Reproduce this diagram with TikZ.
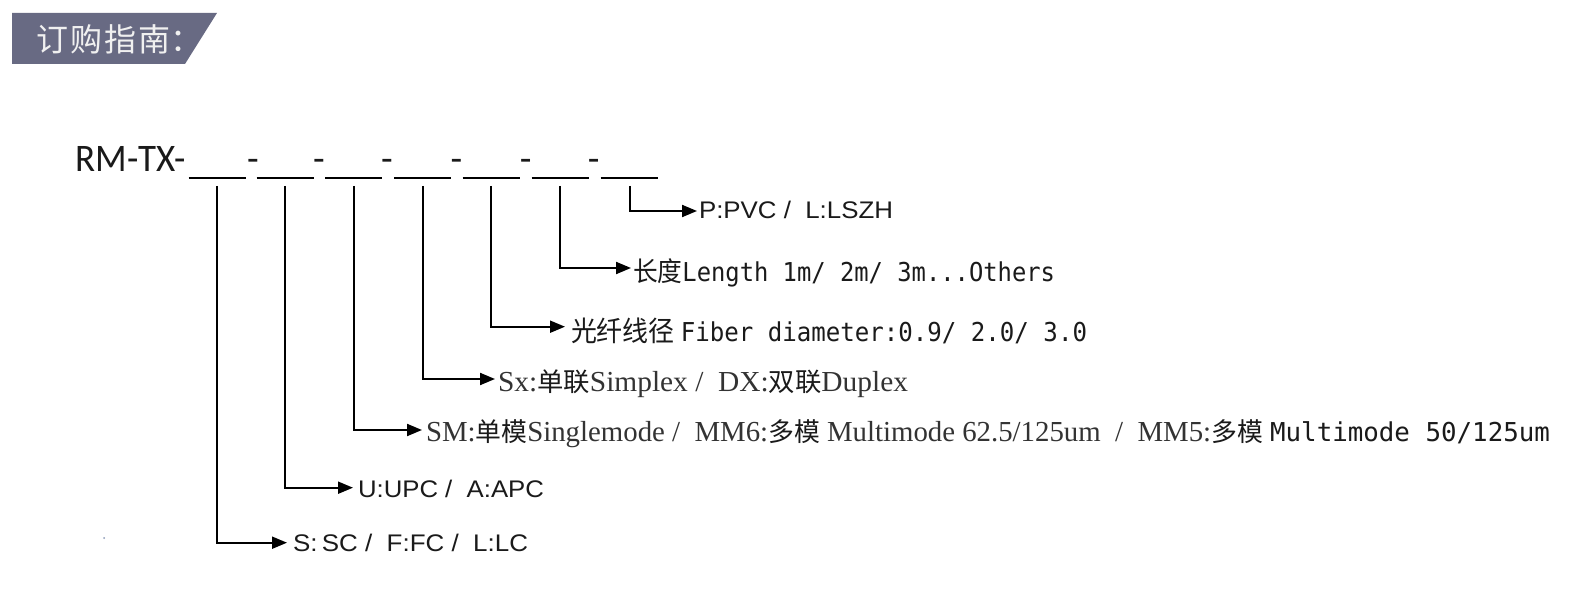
\documentclass[tikz,border=0pt]{standalone}
\usepackage{fontspec}
\usepackage{graphicx}
\usetikzlibrary{arrows.meta,calc}
\setmainfont{Liberation Serif}
\newfontfamily\cjk{Noto Sans CJK SC}
\newfontfamily\arialf{Liberation Sans}
\newfontfamily\monof{DejaVu Sans Mono}
\newfontfamily\calf{Carlito}
\definecolor{banner}{HTML}{686A83}
\definecolor{ink}{HTML}{1A1A1A}
\definecolor{serifink}{HTML}{333333}
\definecolor{speck}{HTML}{8A9AB8}
\newcommand\fitw[2]{\resizebox{#1}{\height}{#2}}
\begin{document}
\begin{tikzpicture}[x=0.5pt,y=-0.5pt,
  lbl/.style={anchor=base west,inner sep=0pt,outer sep=0pt,text=ink},
  dashlbl/.style={anchor=base,inner sep=0pt,outer sep=0pt,text=ink,font=\calf\fontsize{19pt}{19pt}\selectfont},
  conn/.style={line width=1pt,-{Triangle[length=7.5pt,width=6pt]}},
  uline/.style={line width=1pt}]
\useasboundingbox[fill=white] (0,0) rectangle (1577,592);
% banner
\fill[banner] (12,13) -- (217,13) -- (185,64) -- (12,64) -- cycle;
\node[anchor=west,inner sep=0pt,text=white!94!black] (title) at (36,39)
  {\fontsize{16pt}{16pt}\selectfont\cjk 订\hspace{1pt}购\hspace{1pt}指\hspace{1pt}南：};
% code line
\node[lbl] (code) at (75.5,172) {\fitw{55pt}{\fontsize{19.5pt}{19.5pt}\selectfont\calf RM-TX-}};
\foreach \i/\x in {1/253,2/319,3/387,4/456.5,5/525.8,6/593.8}
  \node[dashlbl] (d\i) at (\x,172) {-};
\foreach \i/\x in {1/217,2/285,3/353.5,4/422.5,5/491,6/560,7/629}
  \coordinate (u\i) at (\x,178);
\foreach \i in {1,...,7}
  \draw[uline] ($(u\i)+(-28.5,0)$) -- ($(u\i)+(28.5,0)$);
% labels
\node[lbl] (t7) at (699,219) {\fitw{97pt}{\fontsize{12pt}{12pt}\selectfont\arialf P:PVC /\ \ L:LSZH}};
\node[lbl] (t6) at (633,282) {\fitw{211pt}{\fontsize{13pt}{13pt}\selectfont{\cjk\fontsize{13.5pt}{13.5pt}\selectfont 长度}{\monof Length 1m/ 2m/ 3m...Others}}};
\node[lbl] (t5) at (571,341.7) {\fitw{258pt}{\fontsize{13pt}{13pt}\selectfont{\cjk\fontsize{14pt}{14pt}\selectfont 光纤线径} {\monof Fiber diameter:0.9/ 2.0/ 3.0}}};
\node[lbl,text=serifink] (t4) at (498,392) {\fitw{205pt}{\fontsize{14.5pt}{14.5pt}\selectfont Sx:{\cjk\fontsize{13pt}{13pt}\selectfont\color{ink} 单联}Simplex /\ \ DX:{\cjk\fontsize{13pt}{13pt}\selectfont\color{ink} 双联}Duplex}};
\node[lbl,text=serifink] (t3) at (426,442) {\fitw{562pt}{\fontsize{14.5pt}{14.5pt}\selectfont SM:{\cjk\fontsize{13pt}{13pt}\selectfont\color{ink} 单模}Singlemode /\ \ MM6:{\cjk\fontsize{13pt}{13pt}\selectfont\color{ink} 多模} Multimode 62.5/125um\ \ /\ \ MM5:{\cjk\fontsize{13pt}{13pt}\selectfont\color{ink} 多模} {\monof\fontsize{13pt}{13pt}\selectfont\color{ink} Multimode 50/125um}}};
\node[lbl] (t2) at (358,497.7) {\fitw{93pt}{\fontsize{12pt}{12pt}\selectfont\arialf U:UPC /\ \ A:APC}};
\node[lbl] (t1) at (293,551.7) {\fitw{117.5pt}{\fontsize{12pt}{12pt}\selectfont\arialf S:\,SC /\ \ F:FC /\ \ L:LC}};
% connectors
\draw[conn] ($(u1)+(0,8)$) |- ($(t1.base west)+(-6,-9)$);
\draw[conn] ($(u2)+(0,8)$) |- ($(t2.base west)+(-5,-10)$);
\draw[conn] ($(u3)+(0,8)$) |- ($(t3.base west)+(-4,-12)$);
\draw[conn] ($(u4)+(0,8)$) |- ($(t4.base west)+(-3,-13)$);
\draw[conn] ($(u5)+(0,8)$) |- ($(t5.base west)+(-6,-15)$);
\draw[conn] ($(u6)+(0,8)$) |- ($(t6.base west)+(-2,-14)$);
\draw[conn] ($(u7)+(1,8)$) |- ($(t7.base west)+(-2,-8)$);
% speck
\fill[speck] (104,538) circle (1);
\end{tikzpicture}
\end{document}
